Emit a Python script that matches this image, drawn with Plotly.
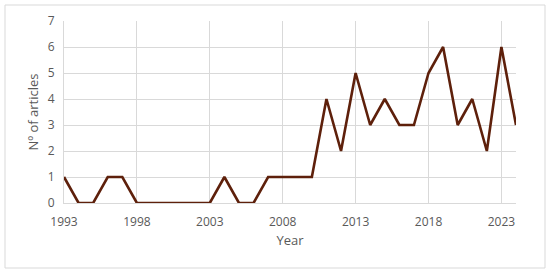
import plotly.graph_objects as go

years = list(range(1993, 2025))
articles = [1, 0, 0, 1, 1, 0, 0, 0, 0, 0, 0, 1, 0, 0, 1, 1, 1, 1, 4, 2, 5, 3, 4, 3, 3, 5, 6, 3, 4, 2, 6, 3]
x_ticks = [1993, 1998, 2003, 2008, 2013, 2018, 2023]
y_ticks = [0, 1, 2, 3, 4, 5, 6, 7]

W, H = 550, 273
L, R, T, B = 64, 34, 21, 70
pw, ph = W - L - R, H - T - B

fig = go.Figure(go.Scatter(
    x=years, y=articles, mode="lines", cliponaxis=False,
    line=dict(color="#5E200B", width=2.6),
    hoverinfo="x+y"))

def px(xp):
    return (xp - L) / pw

def py(yp):
    return (H - B - yp) / ph

fig.update_layout(
    width=W, height=H,
    margin=dict(l=L, r=R, t=T, b=B, autoexpand=False),
    paper_bgcolor="white", plot_bgcolor="white",
    font=dict(family="Open Sans, Liberation Sans, sans-serif", size=12, color="#595959"),
    showlegend=False,
    xaxis=dict(range=[1993, 2024], tickvals=x_ticks, showgrid=True, gridcolor="#D9D9D9",
               gridwidth=1, showline=True, linecolor="#D9D9D9", zeroline=False,
               ticks="", ticklabelstandoff=8, automargin=False,
               title=dict(text="Year", font=dict(size=13, color="#595959"), standoff=6)),
    yaxis=dict(range=[0, 7], tickvals=y_ticks, showgrid=True, gridcolor="#D9D9D9",
               gridwidth=1, showline=True, linecolor="#D9D9D9", zeroline=False,
               ticks="", ticklabelstandoff=6, automargin=False,
               title=dict(text="Nº of articles", font=dict(size=13, color="#595959"), standoff=6)),
    shapes=[dict(type="rect", xref="paper", yref="paper",
                 x0=px(5), x1=px(545), y0=py(5), y1=py(268),
                 line=dict(color="#D9D9D9", width=1), fillcolor="rgba(0,0,0,0)", layer="below")],
)

fig.write_html("out.html", post_script="document.body.style.margin='0';",
               config={"displayModeBar": False})
